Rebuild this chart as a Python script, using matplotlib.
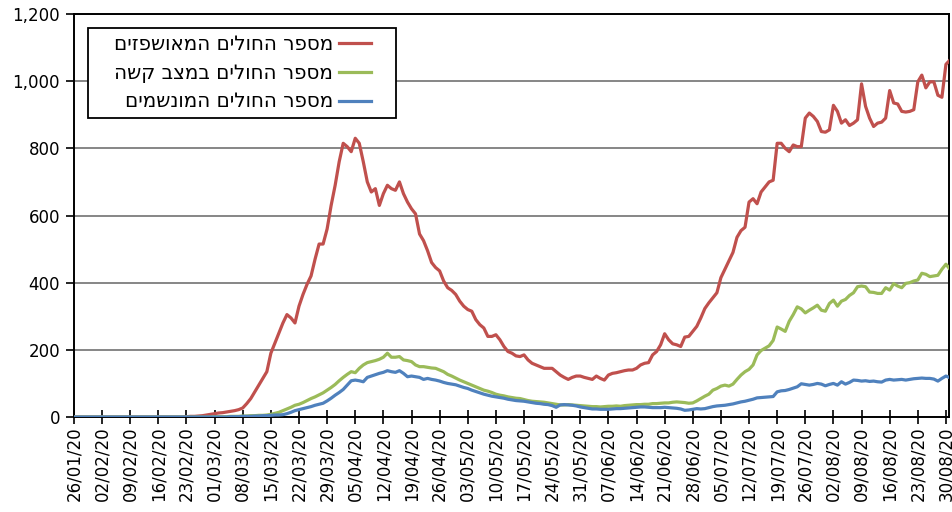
import numpy as np
import matplotlib
matplotlib.use('Agg')
import matplotlib.pyplot as plt
from matplotlib.ticker import FuncFormatter

plt.rcParams['font.family'] = ['DejaVu Sans']

# daily values from 26/01/20 to 31/08/20
hospitalized = [0] * 28 + [
    1, 2, 2, 3, 4, 6, 8,
    10, 12, 13, 15, 17, 19, 22, 27, 40, 55, 75, 95, 115, 135,
    190, 220, 250, 280, 305, 295, 280, 330, 365, 395, 420, 470, 515, 515,
    560, 630, 690, 760, 815, 805, 790, 830, 815, 760, 700, 670, 680, 630,
    665, 690, 680, 675, 700, 665, 640, 620, 605, 545, 525, 495, 460, 445,
    435, 405, 385, 377, 365, 345, 330, 320, 315, 290, 275, 265, 240, 240,
    245, 230, 210, 195, 190, 182, 180, 185, 170, 160, 155, 150, 145, 145,
    145, 135, 125, 118, 112, 118, 122, 122, 118, 115, 112, 122, 115, 110,
    125, 130, 132, 135, 138, 140, 140, 145, 155, 160, 162, 185, 195, 215,
    248, 230, 218, 215, 210, 238, 240, 255, 270, 295, 323, 340, 355, 370,
    415, 440, 465, 490, 535, 555, 565, 640, 650, 635, 670, 685, 700, 705,
    815, 815, 800, 790, 810, 805, 805, 890, 905, 895, 880, 850, 848, 855,
    928, 910, 875, 885, 868, 875, 885, 992, 925, 890, 865, 875, 878, 890,
    972, 935, 932, 910, 908, 910, 915, 998, 1018, 980, 998, 998, 958, 952,
    1050, 1063]

serious = [0] * 35 + [
    1, 1, 1, 1, 2, 2, 2, 3, 3, 4, 4, 5, 5, 6,
    8, 11, 14, 19, 24, 29, 35, 38, 43, 49, 55, 60, 66, 72,
    80, 88, 97, 108, 118, 127, 135, 132, 145, 155, 162, 165, 168, 172,
    178, 190, 178, 178, 180, 170, 168, 165, 155, 150, 150, 148, 146, 145,
    140, 135, 127, 122, 116, 110, 105, 100, 95, 90, 85, 80, 77, 73,
    68, 65, 63, 60, 58, 56, 55, 52, 49, 47, 46, 45, 44, 42,
    40, 38, 36, 36, 37, 36, 35, 34, 33, 32, 31, 31, 30, 31,
    32, 32, 33, 32, 34, 35, 36, 37, 37, 38, 38, 40, 40, 41,
    42, 42, 44, 45, 44, 43, 41, 42, 48, 55, 62, 68, 80, 85,
    92, 95, 92, 98, 112, 125, 135, 142, 155, 185, 198, 205, 212, 228,
    268, 262, 255, 285, 305, 328, 322, 310, 318, 325, 333, 318, 315, 338,
    348, 330, 345, 350, 362, 370, 388, 390, 388, 372, 371, 368, 368, 385,
    378, 397, 390, 385, 398, 400, 405, 408, 428, 425, 418, 420, 422, 440,
    455, 440]

ventilated = [0] * 39 + [
    1, 1, 1, 2, 2, 2, 3, 3, 4, 4,
    5, 6, 6, 7, 10, 14, 19, 22, 25, 28, 31, 35, 38, 41,
    48, 56, 65, 73, 82, 95, 108, 110, 108, 105, 118, 122, 126, 130,
    133, 138, 135, 133, 138, 130, 120, 122, 120, 118, 112, 115, 112, 110,
    107, 103, 100, 98, 96, 92, 88, 85, 80, 76, 72, 68, 65, 62,
    60, 58, 56, 53, 51, 49, 48, 47, 45, 43, 41, 40, 38, 37,
    34, 29, 36, 37, 36, 35, 33, 30, 28, 26, 24, 24, 23, 23,
    23, 24, 25, 25, 26, 27, 28, 29, 30, 30, 29, 28, 28, 28,
    29, 28, 27, 26, 24, 20, 21, 23, 25, 24, 25, 28, 31, 33,
    34, 35, 37, 39, 42, 45, 47, 50, 53, 57, 58, 59, 60, 61,
    75, 78, 79, 82, 86, 90, 99, 97, 95, 97, 100, 98, 93, 97,
    100, 95, 105, 98, 103, 110, 109, 107, 108, 106, 107, 105, 104, 110,
    112, 110, 111, 112, 110, 112, 114, 115, 116, 115, 115, 113, 107, 115,
    122, 117]

week_labels = ['26/01/20', '02/02/20', '09/02/20', '16/02/20', '23/02/20',
               '01/03/20', '08/03/20', '15/03/20', '22/03/20', '29/03/20',
               '05/04/20', '12/04/20', '19/04/20', '26/04/20', '03/05/20',
               '10/05/20', '17/05/20', '24/05/20', '31/05/20', '07/06/20',
               '14/06/20', '21/06/20', '28/06/20', '05/07/20', '12/07/20',
               '19/07/20', '26/07/20', '02/08/20', '09/08/20', '16/08/20',
               '23/08/20', '30/08/20']

legend_names = ['מספר החולים המאושפזים',
                'מספר החולים במצב קשה',
                'מספר החולים המונשמים']

days = np.arange(len(hospitalized))

fig = plt.figure(figsize=(9.52, 5.12), dpi=100)
ax = fig.add_axes([0.0777, 0.1855, 0.9193, 0.7872])

colors = ['#C0504D', '#9BBB59', '#4F81BD']
series = [hospitalized, serious, ventilated]
for vals, c, name in zip(series, colors, legend_names):
    # matplotlib has no bidi support, so give the Hebrew in visual order
    ax.plot(days[:len(vals)], vals, color=c, lw=2.3, label='   ' + name[::-1],
            solid_joinstyle='round', zorder=3)

ax.set_xlim(0, 217.8)
ax.set_ylim(0, 1200)
ax.set_yticks(np.arange(0, 1201, 200))
ax.yaxis.set_major_formatter(FuncFormatter(lambda v, p: f'{v:,.0f}'))
ax.set_xticks(np.arange(len(week_labels)) * 7)
ax.set_xticklabels(week_labels, rotation=90)

ax.grid(axis='y', color='#868686', lw=1.4)
ax.set_axisbelow(True)
for s in ax.spines.values():
    s.set_linewidth(1.4)
    s.set_color('black')

ax.tick_params(axis='x', direction='inout', length=10, width=1.2,
               labelsize=12, pad=2)
ax.tick_params(axis='y', direction='out', length=6, width=1.2,
               labelsize=12, pad=4)

leg = ax.legend(loc='upper left', bbox_to_anchor=(0.016, 0.73, 0.352, 0.236),
                mode='expand', borderaxespad=0, markerfirst=False,
                fontsize=14.3, fancybox=False, framealpha=1, edgecolor='black',
                handlelength=1.6, handletextpad=0.3, labelspacing=0.5,
                borderpad=0.35)
leg.get_frame().set_linewidth(1.3)
leg.set_zorder(5)

fig.savefig('out.png', dpi=100)
